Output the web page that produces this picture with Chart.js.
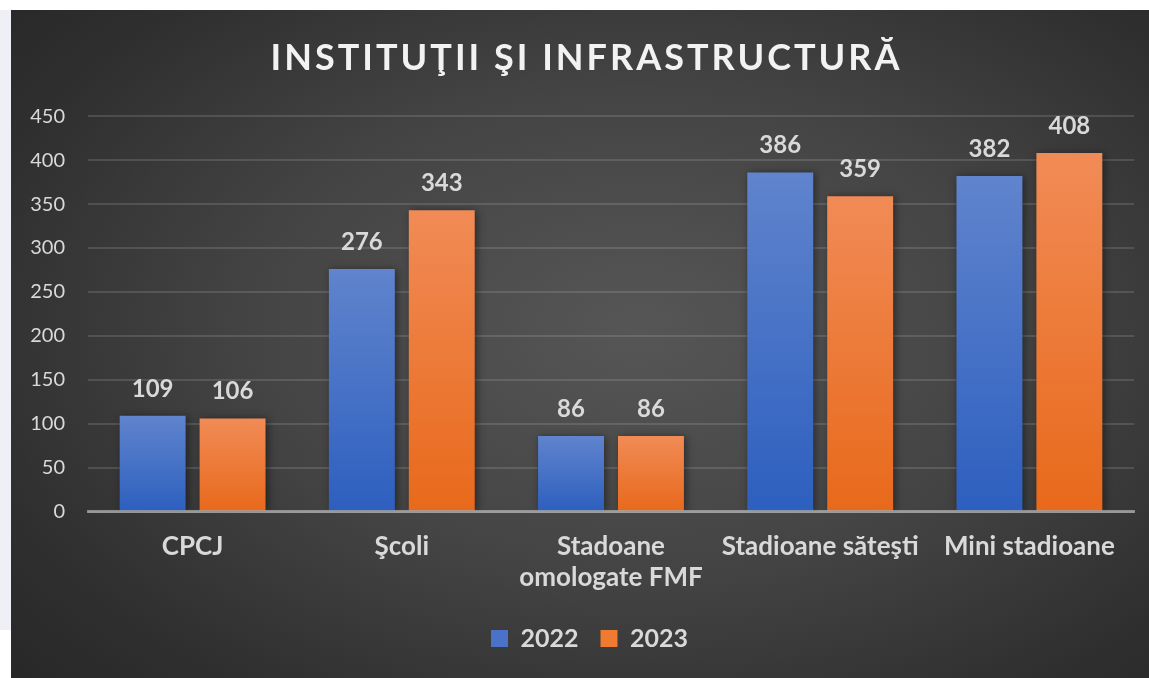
<!DOCTYPE html>
<html>
<head>
<meta charset="utf-8">
<script src="https://cdn.jsdelivr.net/npm/chart.js@4.4.0/dist/chart.umd.min.js"></script>
<style>
  html, body { margin: 0; padding: 0; background: #ffffff; }
  body { width: 1149px; height: 678px; position: relative; overflow: hidden; }
  .edge { position: absolute; left: 0; top: 10px; width: 11px; height: 620px; background: #eef0f6; }
  #wrap {
    position: absolute; left: 11px; top: 10px; width: 1138px; height: 668px;
    background: radial-gradient(ellipse 75% 80% at 55% 48%, #565656 0%, #444444 45%, #2f2f2f 80%, #272727 100%);
  }
</style>
</head>
<body>
<div class="edge"></div>
<div id="wrap"><canvas id="chart" width="1138" height="668"></canvas></div>
<script>
const categories = ['CPCJ', 'Şcoli', ['Stadoane', 'omologate FMF'], 'Stadioane săteşti', 'Mini stadioane'];
const values2022 = [109, 276, 86, 386, 382];
const values2023 = [106, 343, 86, 359, 408];
const seriesNames = ['2022', '2023'];
const yTicks = [0, 50, 100, 150, 200, 250, 300, 350, 400, 450];

const TEXT = '#d9d9d9';
const FONT = 'Lato, "Open Sans", sans-serif';

// vertical gradient per bar, light at top, darker at bottom
function barFill(top, bottom) {
  return (ctx) => {
    const chart = ctx.chart;
    if (!chart.chartArea || ctx.raw == null) return bottom;
    const y = chart.scales.y;
    const y0 = y.getPixelForValue(ctx.raw);
    const y1 = y.getPixelForValue(0);
    const g = chart.ctx.createLinearGradient(0, y0, 0, y1);
    g.addColorStop(0, top);
    g.addColorStop(1, bottom);
    return g;
  };
}

const legendColors = ['#4a72c9', '#ef7b30'];

// letter-spaced title, title and legend nudged a little to the right
const layoutTweaks = {
  id: 'layoutTweaks',
  afterLayout(chart) {
    const t = chart.titleBlock;
    if (t) {
      if (!t._spaced) {
        const draw = t.draw.bind(t);
        t.draw = function () {
          chart.ctx.save();
          chart.ctx.letterSpacing = '3px';
          draw();
          chart.ctx.restore();
        };
        t._spaced = true;
      }
      t.left += 14;
      t.right += 14;
    }
    if (chart.legend) {
      chart.legend.left += 17;
      chart.legend.right += 17;
    }
  }
};

const barShadow = {
  id: 'barShadow',
  beforeDatasetsDraw(chart) {
    const c = chart.ctx;
    c.save();
    c.shadowColor = 'rgba(0,0,0,0.45)';
    c.shadowBlur = 8;
    c.shadowOffsetX = 2;
    c.shadowOffsetY = 1;
  },
  afterDatasetsDraw(chart) {
    chart.ctx.restore();
  }
};

const valueLabels = {
  id: 'valueLabels',
  afterDatasetsDraw(chart) {
    const c = chart.ctx;
    c.save();
    c.font = 'bold 24px ' + FONT;
    c.fillStyle = TEXT;
    c.textAlign = 'center';
    c.textBaseline = 'bottom';
    chart.data.datasets.forEach((ds, i) => {
      chart.getDatasetMeta(i).data.forEach((bar, j) => {
        c.fillText(String(ds.data[j]), bar.x, bar.y - 15);
      });
    });
    c.restore();
  }
};

new Chart(document.getElementById('chart'), {
  type: 'bar',
  data: {
    labels: categories,
    datasets: [
      {
        label: seriesNames[0],
        data: values2022,
        backgroundColor: barFill('#6084cd', '#2d5fbf'),
        borderWidth: 0,
        categoryPercentage: 0.764,
        barPercentage: 0.825
      },
      {
        label: seriesNames[1],
        data: values2023,
        backgroundColor: barFill('#f18b56', '#e8691b'),
        borderWidth: 0,
        categoryPercentage: 0.764,
        barPercentage: 0.825
      }
    ]
  },
  options: {
    responsive: false,
    animation: false,
    layout: { padding: { left: 0, right: 15, top: 0, bottom: 17 } },
    plugins: {
      title: {
        display: true,
        text: 'INSTITUŢII ŞI INFRASTRUCTURĂ',
        color: '#f2f2f2',
        font: { family: FONT, size: 36, weight: 'bold' },
        padding: { top: 27, bottom: 36 }
      },
      legend: {
        position: 'bottom',
        labels: {
          color: TEXT,
          font: { family: FONT, size: 25, weight: 'bold' },
          boxWidth: 17,
          boxHeight: 17,
          padding: 22,
          generateLabels: () => seriesNames.map((n, i) => ({
            text: n,
            fillStyle: legendColors[i],
            strokeStyle: legendColors[i],
            lineWidth: 0,
            fontColor: TEXT,
            datasetIndex: i
          }))
        }
      },
      tooltip: { enabled: false }
    },
    scales: {
      x: {
        grid: { display: false },
        border: { display: true, color: 'rgba(200,200,200,0.6)', width: 3, z: 1 },
        ticks: {
          color: TEXT,
          font: { family: FONT, size: 26, weight: 'bold' },
          padding: 11,
          maxRotation: 0,
          autoSkip: false
        }
      },
      y: {
        min: 0,
        max: 450,
        afterBuildTicks: (scale) => { scale.ticks = yTicks.map((v) => ({ value: v })); },
        afterFit: (scale) => { scale.width = 77; },
        grid: { color: 'rgba(200,200,200,0.18)', lineWidth: 2, drawTicks: false },
        border: { display: false },
        ticks: {
          color: TEXT,
          font: { family: FONT, size: 20 },
          padding: 23
        }
      }
    }
  },
  plugins: [layoutTweaks, barShadow, valueLabels]
});
</script>
</body>
</html>
